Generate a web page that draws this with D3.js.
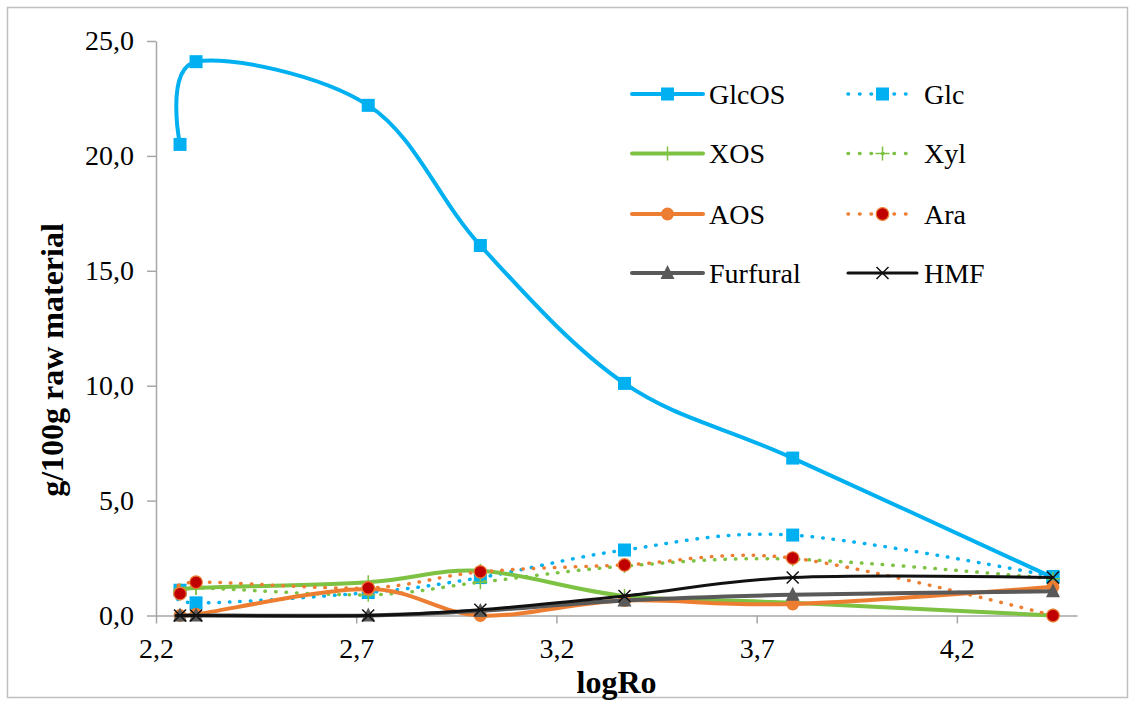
<!DOCTYPE html>
<html>
<head>
<meta charset="utf-8">
<script src="https://cdn.jsdelivr.net/npm/d3@7"></script>
<style>
  body { margin: 0; background: #fff; }
  svg text { font-family: "Liberation Serif", serif; fill: #000; }
</style>
</head>
<body>
<div id="chart-container"></div>
<script>
// Data
const logRo    = [2.26, 2.30, 2.73, 3.01, 3.37, 3.79, 4.44];
const glcos    = [20.5, 24.1, 22.2, 16.1, 10.1, 6.85, 1.65];
const glc      = [1.1, 0.55, 1.0, 1.65, 2.85, 3.5, 1.7];
const xos      = [1.1, 1.2, 1.45, 1.95, 0.85, 0.55, 0.0];
const xyl      = [0.95, 1.2, 0.9, 1.45, 2.15, 2.45, 1.6];
const aos      = [0.0, 0.05, 1.15, 0.0, 0.65, 0.5, 1.25];
const ara      = [0.95, 1.45, 1.2, 1.9, 2.2, 2.5, 0.0];
const furfural = [0.0, 0.0, 0.0, 0.2, 0.65, 0.9, 1.05];
const hmf      = [0.0, 0.0, 0.0, 0.25, 0.85, 1.65, 1.65];

const xTicks = [2.2, 2.7, 3.2, 3.7, 4.2];
const yTicks = [0, 5, 10, 15, 20, 25];

const seriesNames = ["GlcOS", "Glc", "XOS", "Xyl", "AOS", "Ara", "Furfural", "HMF"];
const seriesValues = [glcos, glc, xos, xyl, aos, ara, furfural, hmf];

const blue = "#00B0F0", green = "#7DC242", orange = "#ED7D31", red = "#C00000", gray = "#595959";
const serif = '"Liberation Serif", serif';

// style per series (same order as seriesNames)
const styles = [
  { color: blue,   dotted: false, marker: "square",    w: 4 },
  { color: blue,   dotted: true,  marker: "square",    w: 3.5 },
  { color: green,  dotted: false, marker: "plus",      w: 4 },
  { color: green,  dotted: true,  marker: "plus",      w: 3.5 },
  { color: orange, dotted: false, marker: "circle",    w: 4 },
  { color: orange, dotted: true,  marker: "redcircle", w: 3.5 },
  { color: gray,   dotted: false, marker: "triangle",  w: 4 },
  { color: "#111", dotted: false, marker: "cross",     w: 3 }
];

const W = 1134, H = 704;
const svg = d3.select("#chart-container")
  .append("svg")
  .attr("width", W)
  .attr("height", H)
  .attr("font-family", serif);

svg.append("rect")
  .attr("x", 7.5).attr("y", 7.5)
  .attr("width", 1120).attr("height", 690)
  .attr("fill", "#fff")
  .attr("stroke", "#bfbfbf")
  .attr("stroke-width", 1.5);

const xScale = d3.scaleLinear().domain([2.2, 4.5]).range([156, 1077]);
const yScale = d3.scaleLinear().domain([0, 25]).range([615.5, 41]);

const fmt = d3.formatLocale({ decimal: ",", thousands: ".", grouping: [3], currency: ["", ""] }).format(".1f");

// Axes
const yAxis = svg.append("g")
  .attr("transform", `translate(${xScale(2.2)},0)`)
  .call(d3.axisLeft(yScale).tickValues(yTicks).tickSize(9).tickSizeOuter(0).tickPadding(13).tickFormat(fmt));

const xAxis = svg.append("g")
  .attr("transform", `translate(0,${yScale(0)})`)
  .call(d3.axisBottom(xScale).tickValues(xTicks).tickSize(8).tickSizeOuter(0).tickPadding(15).tickFormat(fmt));

[xAxis, yAxis].forEach(ax => {
  ax.attr("font-family", serif).attr("font-size", 28);
  ax.selectAll("path, line").attr("stroke", "#a6a6a6").attr("stroke-width", 1.5);
  ax.selectAll("text")
    .attr("font-family", serif)
    .attr("font-size", 28)
    .attr("fill", "#000");
});

// Axis titles
svg.append("text")
  .attr("x", (xScale.range()[0] + xScale.range()[1]) / 2)
  .attr("y", 693)
  .attr("font-family", serif)
  .style("text-anchor", "middle")
  .style("font-size", "32px")
  .style("font-weight", "bold")
  .text("logRo");

svg.append("text")
  .attr("transform", "translate(63,360) rotate(-90)")
  .attr("font-family", serif)
  .style("text-anchor", "middle")
  .style("font-size", "32px")
  .style("font-weight", "bold")
  .text("g/100g raw material");

// Lines
const line = d3.line()
  .x(d => xScale(d[0]))
  .y(d => yScale(d[1]))
  .curve(d3.curveCardinal.tension(0));

function drawMarker(g, type, cx, cy) {
  if (type === "square") {
    g.append("rect").attr("x", cx - 6.5).attr("y", cy - 6.5).attr("width", 13).attr("height", 13)
      .attr("fill", blue);
  } else if (type === "plus") {
    g.append("path").attr("d", `M${cx - 7},${cy}H${cx + 7}M${cx},${cy - 7}V${cy + 7}`)
      .attr("stroke", green).attr("stroke-width", 1.5).attr("fill", "none");
  } else if (type === "circle") {
    g.append("circle").attr("cx", cx).attr("cy", cy).attr("r", 6.5).attr("fill", orange);
  } else if (type === "redcircle") {
    g.append("circle").attr("cx", cx).attr("cy", cy).attr("r", 6.3)
      .attr("fill", red).attr("stroke", orange).attr("stroke-width", 1.2);
  } else if (type === "triangle") {
    g.append("path").attr("d", `M${cx},${cy - 8}L${cx + 7},${cy + 6}L${cx - 7},${cy + 6}Z`)
      .attr("fill", gray);
  } else if (type === "cross") {
    g.append("path").attr("d", `M${cx - 6},${cy - 6}L${cx + 6},${cy + 6}M${cx + 6},${cy - 6}L${cx - 6},${cy + 6}`)
      .attr("stroke", "#111").attr("stroke-width", 1.5).attr("fill", "none");
  }
}

seriesNames.forEach((name, i) => {
  const st = styles[i];
  const pts = logRo.map((x, j) => [x, seriesValues[i][j]]);
  const g = svg.append("g").attr("class", "series");

  g.append("path")
    .datum(pts)
    .attr("fill", "none")
    .attr("stroke", st.color)
    .attr("stroke-width", st.w)
    .attr("stroke-linecap", "round")
    .attr("stroke-dasharray", st.dotted ? "0.5 10" : null)
    .attr("d", line);

  pts.forEach(p => drawMarker(g, st.marker, xScale(p[0]), yScale(p[1])));
});

// Legend
const legend = svg.append("g");
const legCols = [{ x0: 632, x1: 703, tx: 709 }, { x0: 848, x1: 917, tx: 924 }];
const legRows = [94, 153.5, 214, 273];

seriesNames.forEach((name, i) => {
  const st = styles[i];
  const c = legCols[i % 2];
  const yy = legRows[Math.floor(i / 2)];
  legend.append("line")
    .attr("x1", c.x0).attr("x2", c.x1).attr("y1", yy).attr("y2", yy)
    .attr("stroke", st.color)
    .attr("stroke-width", st.w)
    .attr("stroke-linecap", "round")
    .attr("stroke-dasharray", st.dotted ? "0.5 11" : null);
  drawMarker(legend, st.marker, (c.x0 + c.x1) / 2, yy);
  legend.append("text")
    .attr("x", c.tx)
    .attr("y", yy)
    .attr("dy", "0.35em")
    .attr("font-family", serif)
    .style("font-size", "28px")
    .text(name);
});
</script>
</body>
</html>
